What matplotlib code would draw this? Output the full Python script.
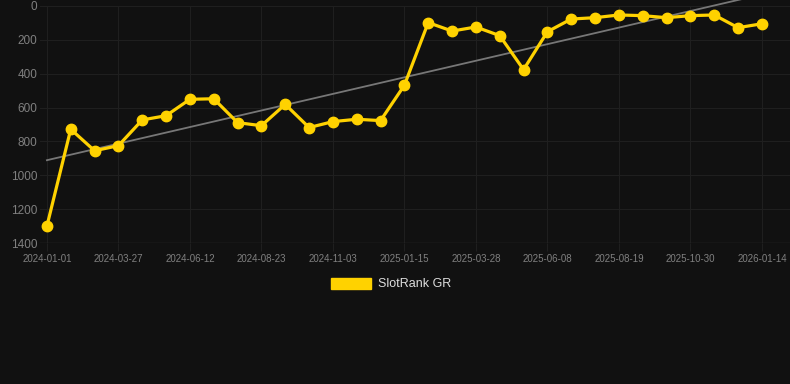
import numpy as np
import matplotlib
matplotlib.use("Agg")
import matplotlib.pyplot as plt
from matplotlib.patches import Patch

# rank per snapshot (lower is better), one point per snapshot
ranks = [1300, 728, 855, 825, 673, 648, 551, 548, 689, 707, 581, 718, 683, 669, 677,
         468, 98, 148, 124, 175, 376, 152, 77, 69, 53, 57, 69, 57, 53, 128, 105]
tick_labels = ["2024-01-01", "2024-03-27", "2024-06-12", "2024-08-23", "2024-11-03",
               "2025-01-15", "2025-03-28", "2025-06-08", "2025-08-19", "2025-10-30",
               "2026-01-14"]
series_name = "SlotRank GR"

bg = "#111111"
grid_c = "#1f1f1f"
yellow = "#FFD200"
label_c = "#808080"

plt.rcParams["font.family"] = ["Liberation Sans", "DejaVu Sans"]

fig = plt.figure(figsize=(7.9, 3.84), dpi=100, facecolor=bg)
ax = fig.add_axes([40 / 790, 1 - 243 / 384, 750 / 790, 237 / 384])
ax.set_facecolor(bg)

x = np.arange(len(ranks))
coef = np.polyfit(x, ranks, 1)
# trend line runs past the top of the plot area, as in the original
ax.plot(x, np.polyval(coef, x), color="#777777", lw=1.3, zorder=2, clip_on=False)
ax.plot(x, ranks, color=yellow, lw=2.3, marker="o", ms=7.5, zorder=3)

ax.set_ylim(1400, 0)
ax.set_xlim(-0.29, 31.18)
ax.set_yticks(range(0, 1401, 200))
ax.set_xticks(x[::3])
ax.set_xticklabels(tick_labels)
ax.grid(True, color=grid_c, lw=0.8)
for s in ax.spines.values():
    s.set_visible(False)
ax.axhline(1400, color="#2c2c2c", lw=1)
ax.tick_params(axis="y", length=0, labelcolor=label_c, labelsize=8.5, pad=2)
ax.tick_params(axis="x", length=6, color=grid_c, labelcolor=label_c, labelsize=7, pad=2)

fig.legend(handles=[Patch(facecolor=yellow, edgecolor=yellow, label=series_name)],
           loc="center", bbox_to_anchor=(0.495, 1 - 284 / 384), frameon=False,
           fontsize=9, labelcolor="#dddddd", handlelength=3.2, handleheight=1.0,
           handletextpad=0.5)

fig.savefig("out.png", facecolor=bg)
